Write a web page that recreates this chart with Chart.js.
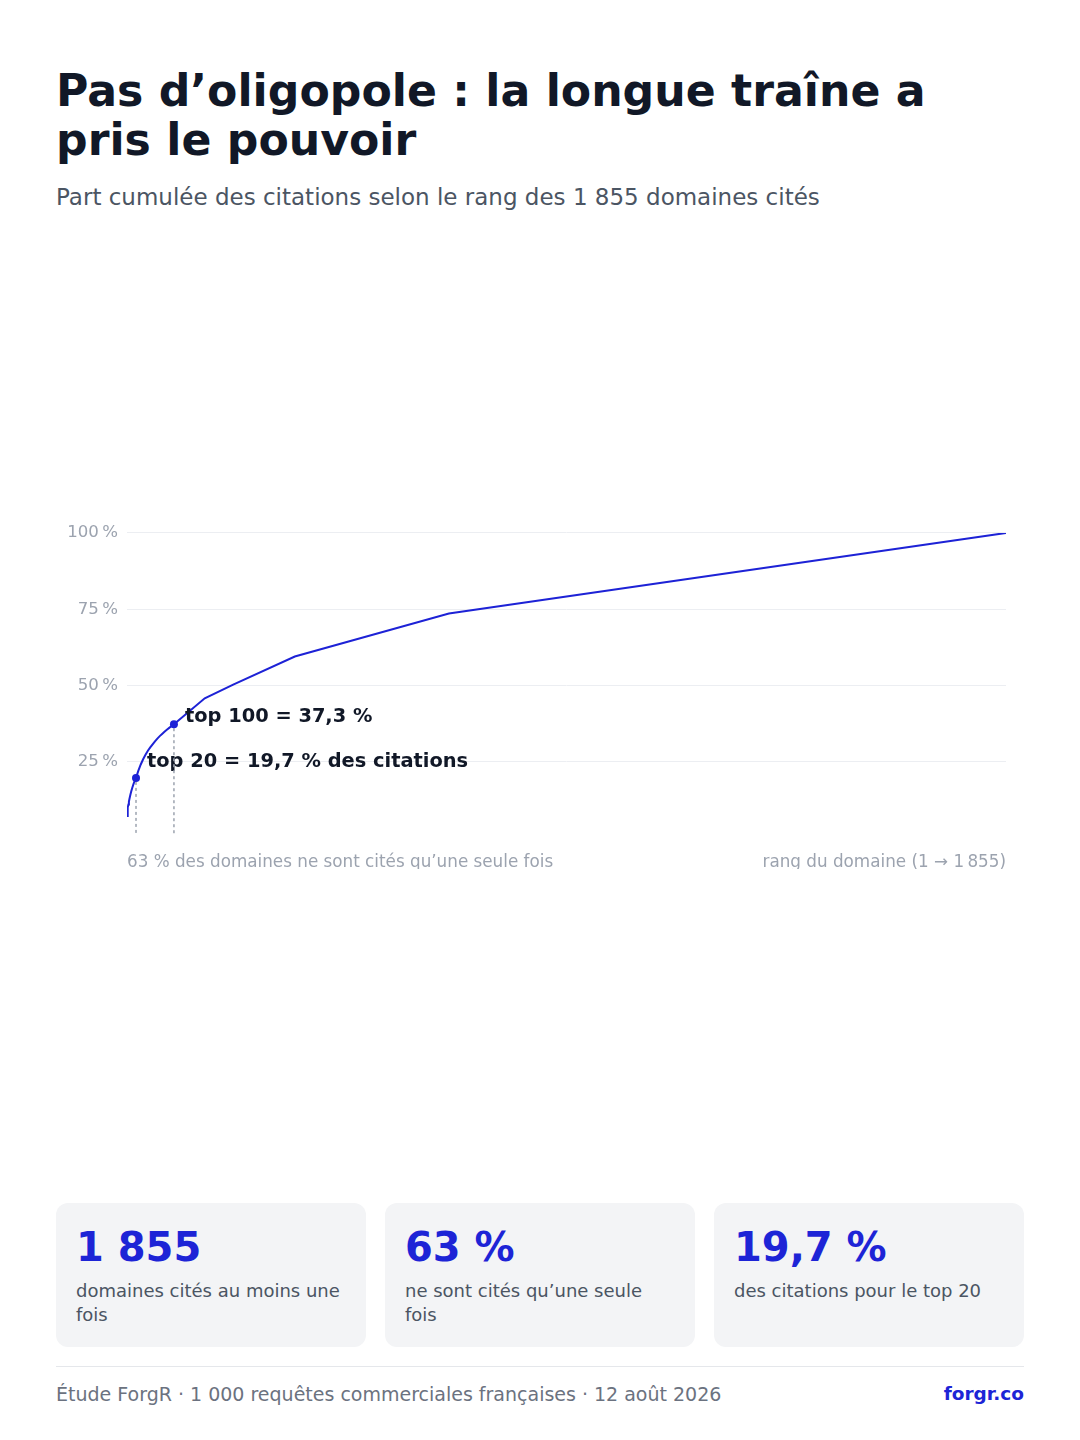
<!DOCTYPE html>
<html lang="fr">
<head>
<meta charset="utf-8">
<title>Pas d’oligopole</title>
<script src="https://cdn.jsdelivr.net/npm/chart.js@4.4.1/dist/chart.umd.min.js"></script>
<style>
  html, body { margin: 0; padding: 0; background: #fff; }
  body {
    width: 1080px; height: 1440px; position: relative; overflow: hidden;
    font-family: "DejaVu Sans", sans-serif; color: #111827;
  }
  h1 {
    position: absolute; left: 56px; top: 67px; width: 968px; margin: 0;
    font-size: 44.2px; line-height: 1.1; font-weight: bold; color: #111827;
  }
  .sub {
    position: absolute; left: 56px; top: 181px; margin: 0;
    font-size: 23px; line-height: 1.4; color: #4b5563;
  }
  .chart-box { position: absolute; left: 56px; top: 514px; width: 968px; height: 355px; }
  .cards { position: absolute; left: 56px; top: 1203px; width: 968px; display: flex; gap: 19px; }
  .card {
    flex: 1; height: 144px; box-sizing: border-box; padding: 22px 20px;
    background: #f3f4f6; border-radius: 12px;
  }
  .card .num { font-size: 40px; font-weight: bold; color: #1d24d6; line-height: 1.1; }
  .card .txt { font-size: 18px; color: #4b5563; line-height: 1.35; margin-top: 10px; }
  .foot {
    position: absolute; left: 56px; top: 1366px; width: 968px;
    border-top: 1px solid #e5e7eb; padding-top: 16px;
    display: flex; justify-content: space-between; font-size: 19px; color: #6b7280;
  }
  .foot b { color: #1d24d6; font-size: 18.5px; }
</style>
</head>
<body>
<h1>Pas d’oligopole : la longue traîne a pris le pouvoir</h1>
<p class="sub">Part cumulée des citations selon le rang des 1 855 domaines cités</p>

<div class="chart-box"><canvas id="myChart"></canvas></div>

<div class="cards">
  <div class="card"><div class="num">1 855</div><div class="txt">domaines cités au moins une fois</div></div>
  <div class="card"><div class="num">63 %</div><div class="txt">ne sont cités qu’une seule fois</div></div>
  <div class="card"><div class="num">19,7 %</div><div class="txt">des citations pour le top 20</div></div>
</div>

<div class="foot"><span>Étude ForgR · 1 000 requêtes commerciales françaises · 12 août 2026</span><b>forgr.co</b></div>

<script>
// rang du domaine -> part cumulée des citations (%)
const ranks = [1, 2, 3, 4, 5, 6, 8, 10, 12, 15, 20, 25, 30, 35, 40, 45, 50, 55, 60, 65, 70, 75, 80, 85, 90, 95, 100, 165, 225, 355, 680, 1855];
const shares = [7.2, 8.8, 10.0, 11.0, 11.9, 12.7, 14.1, 15.3, 16.4, 17.8, 19.7, 22.1, 24.1, 25.8, 27.3, 28.6, 29.7, 30.7, 31.7, 32.6, 33.4, 34.1, 34.8, 35.5, 36.1, 36.7, 37.3, 45.8, 50.3, 59.5, 73.6, 100];

// points mis en avant
const markRanks = [20, 100];
const markShares = [19.7, 37.3];
const markLabels = ["top 20 = 19,7 % des citations", "top 100 = 37,3 %"];

const yTicks = [0, 25, 50, 75, 100];
const xTickLabels = ["63 % des domaines ne sont cités qu’une seule fois", "rang du domaine (1 → 1\u202f855)"];

const blue = "#1d22d6";
const points = ranks.map((r, i) => ({ x: r, y: shares[i] }));

// lignes pointillées + libellés
const markers = {
  id: "markers",
  afterDatasetsDraw(chart) {
    const { ctx, scales: { x, y }, chartArea } = chart;
    const offsets = [[11, -16], [11, -7]];
    ctx.save();
    markRanks.forEach((r, i) => {
      const px = x.getPixelForValue(r);
      const py = y.getPixelForValue(markShares[i]);
      ctx.setLineDash([3, 3]);
      ctx.strokeStyle = "#9ca3af";
      ctx.lineWidth = 1.5;
      ctx.beginPath();
      ctx.moveTo(px, py + 4);
      ctx.lineTo(px, chartArea.bottom - 2);
      ctx.stroke();
      ctx.setLineDash([]);
      ctx.fillStyle = blue;
      ctx.beginPath();
      ctx.arc(px, py, 4, 0, Math.PI * 2);
      ctx.fill();
      ctx.fillStyle = "#111827";
      ctx.font = "bold 19.4px 'DejaVu Sans'";
      ctx.textAlign = "left";
      ctx.textBaseline = "middle";
      ctx.fillText(markLabels[i], px + offsets[i][0], py + offsets[i][1]);
    });
    ctx.restore();
  }
};

new Chart("myChart", {
  type: "line",
  data: {
    datasets: [{
      data: points,
      borderColor: blue,
      borderWidth: 2,
      pointRadius: 0,
      tension: 0,
      fill: false
    }]
  },
  options: {
    responsive: true,
    maintainAspectRatio: false,
    animation: false,
    layout: { padding: { top: 10, right: 18, bottom: 0, left: 0 } },
    plugins: { legend: { display: false }, tooltip: { enabled: false } },
    scales: {
      x: {
        type: "linear",
        min: 1,
        max: 1855,
        grid: { display: false, drawTicks: false },
        border: { display: false },
        afterBuildTicks(scale) { scale.ticks = [{ value: 1 }, { value: 1855 }]; },
        afterFit(scale) { scale.height = 31; },
        ticks: {
          align: "inner",
          maxRotation: 0,
          autoSkip: false,
          padding: 15,
          color: "#9ca3af",
          font: { family: "DejaVu Sans", size: 16.8 },
          callback: (v, i) => xTickLabels[i]
        }
      },
      y: {
        min: 0,
        max: 100,
        afterBuildTicks(scale) { scale.ticks = yTicks.map(v => ({ value: v })); },
        afterFit(scale) { scale.width = 71; },
        grid: {
          color: c => c.tick.value === 0 ? "rgba(0,0,0,0)" : "#eceef2",
          drawTicks: false
        },
        border: { display: false },
        ticks: {
          padding: 9,
          color: "#9ca3af",
          font: { family: "DejaVu Sans", size: 16.6 },
          callback: v => v === 0 ? "" : v + "\u202f%"
        }
      }
    }
  },
  plugins: [markers]
});
</script>
</body>
</html>
